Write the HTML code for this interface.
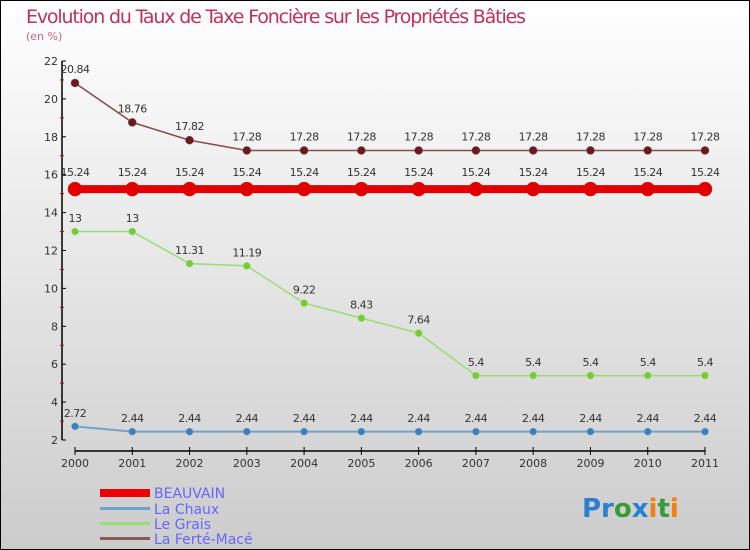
<!DOCTYPE html>
<html><head><meta charset="utf-8"><style>
body{margin:0}
svg{display:block;font-family:"DejaVu Sans","Liberation Sans",sans-serif}
</style></head><body>
<svg id="c" width="750" height="550" xmlns="http://www.w3.org/2000/svg">
<defs><linearGradient id="bg" x1="0" y1="0" x2="0" y2="1"><stop offset="0" stop-color="#ffffff"/><stop offset="1" stop-color="#cccccc"/></linearGradient></defs>
<rect x="0.5" y="0.5" width="749" height="549" fill="url(#bg)" stroke="#000"/>
<text x="26" y="23" font-size="19" fill="#c0305a" textLength="500">Evolution du Taux de Taxe Foncière sur les Propriétés Bâties</text>
<text x="26" y="40" font-size="11" fill="#d06080">(en %)</text>
<g id="axes"></g><g id="series"></g>
<g>
<rect x="100" y="489" width="50" height="8" fill="#e00"/>
<text x="154" y="498" font-size="14" fill="#6666ff">BEAUVAIN</text>
<rect x="100" y="507" width="50" height="3" fill="#6fa2cc"/>
<text x="154" y="514" font-size="14" fill="#6666ff">La Chaux</text>
<rect x="100" y="522" width="50" height="3" fill="#99dd77"/>
<text x="154" y="529" font-size="14" fill="#6666ff">Le Grais</text>
<rect x="100" y="537" width="50" height="3" fill="#8a5a5a"/>
<text x="154" y="544" font-size="14" fill="#6666ff">La Ferté-Macé</text>
</g>
<text x="582" y="517" font-size="26" font-weight="bold"><tspan fill="#2a7fd0">Pr</tspan><tspan fill="#3a9a3a">o</tspan><tspan fill="#2a7fd0">x</tspan><tspan fill="#f08010">i</tspan><tspan fill="#3a9a3a">t</tspan><tspan fill="#f08010">i</tspan></text>
</svg>
<script>
const years=["2000","2001","2002","2003","2004","2005","2006","2007","2008","2009","2010","2011"];
const yTicks=[2,4,6,8,10,12,14,16,18,20,22];
const beauvain=[15.24,15.24,15.24,15.24,15.24,15.24,15.24,15.24,15.24,15.24,15.24,15.24];
const laChaux=[2.72,2.44,2.44,2.44,2.44,2.44,2.44,2.44,2.44,2.44,2.44,2.44];
const leGrais=[13,13,11.31,11.19,9.22,8.43,7.64,5.4,5.4,5.4,5.4,5.4];
const laFerte=[20.84,18.76,17.82,17.28,17.28,17.28,17.28,17.28,17.28,17.28,17.28,17.28];
const NS="http://www.w3.org/2000/svg";
const X=i=>75+i*(630/11);
const Y=v=>440-(v-2)*(379/20);
function mk(p,t,a){const e=document.createElementNS(NS,t);for(const k in a)e.setAttribute(k,a[k]);p.appendChild(e);return e;}
const ax=document.getElementById('axes');
let e=mk(ax,'line',{x1:62,y1:61,x2:62,y2:440,stroke:'#000','stroke-width':1.5});

e=mk(ax,'line',{x1:75,y1:451,x2:705,y2:451,stroke:'#000','stroke-width':1.5});

yTicks.forEach(v=>{
 mk(ax,'line',{x1:62,y1:Y(v),x2:66,y2:Y(v),stroke:'#000'});
 if(v<22)mk(ax,'line',{x1:60,y1:Y(v+1),x2:64,y2:Y(v+1),stroke:'#d00'});
 const t=mk(ax,'text',{x:58,y:Y(v)+4,'font-size':11,fill:'#333','text-anchor':'end'});t.textContent=v;
 
});
years.forEach((y,i)=>{
 mk(ax,'line',{x1:X(i),y1:447,x2:X(i),y2:455,stroke:'#000'});
 const t=mk(ax,'text',{x:X(i),y:467,'font-size':11,fill:'#333','text-anchor':'middle'});t.textContent=y;
 
});
const sg=document.getElementById('series');
function series(name,data,color,dot,w,r){
 const g=mk(sg,'g',{});
 
 const l=mk(g,'polyline',{points:data.map((v,i)=>X(i)+','+Y(v)).join(' '),fill:'none',stroke:color,'stroke-width':w});
 
 data.forEach((v,i)=>{
  const c=mk(g,'circle',{cx:X(i),cy:Y(v),r:r,fill:dot,stroke:color,'stroke-width':0.5});
  
  const t=mk(g,'text',{x:X(i),y:Y(v)-(r+6),'font-size':11,fill:'#333','text-anchor':'middle','letter-spacing':'-0.5'});
  t.textContent=String(v);
  
 });
}
series('la-ferte-mace',laFerte,'#8a4a4a','#6a1a20',1.5,4);
series('beauvain',beauvain,'#e00000','#e00000',8,7);
series('le-grais',leGrais,'#99dd77','#77cc33',1.5,3.5);
series('la-chaux',laChaux,'#6fa2cc','#3a80c0',2,3.5);
</script>
</body></html>
